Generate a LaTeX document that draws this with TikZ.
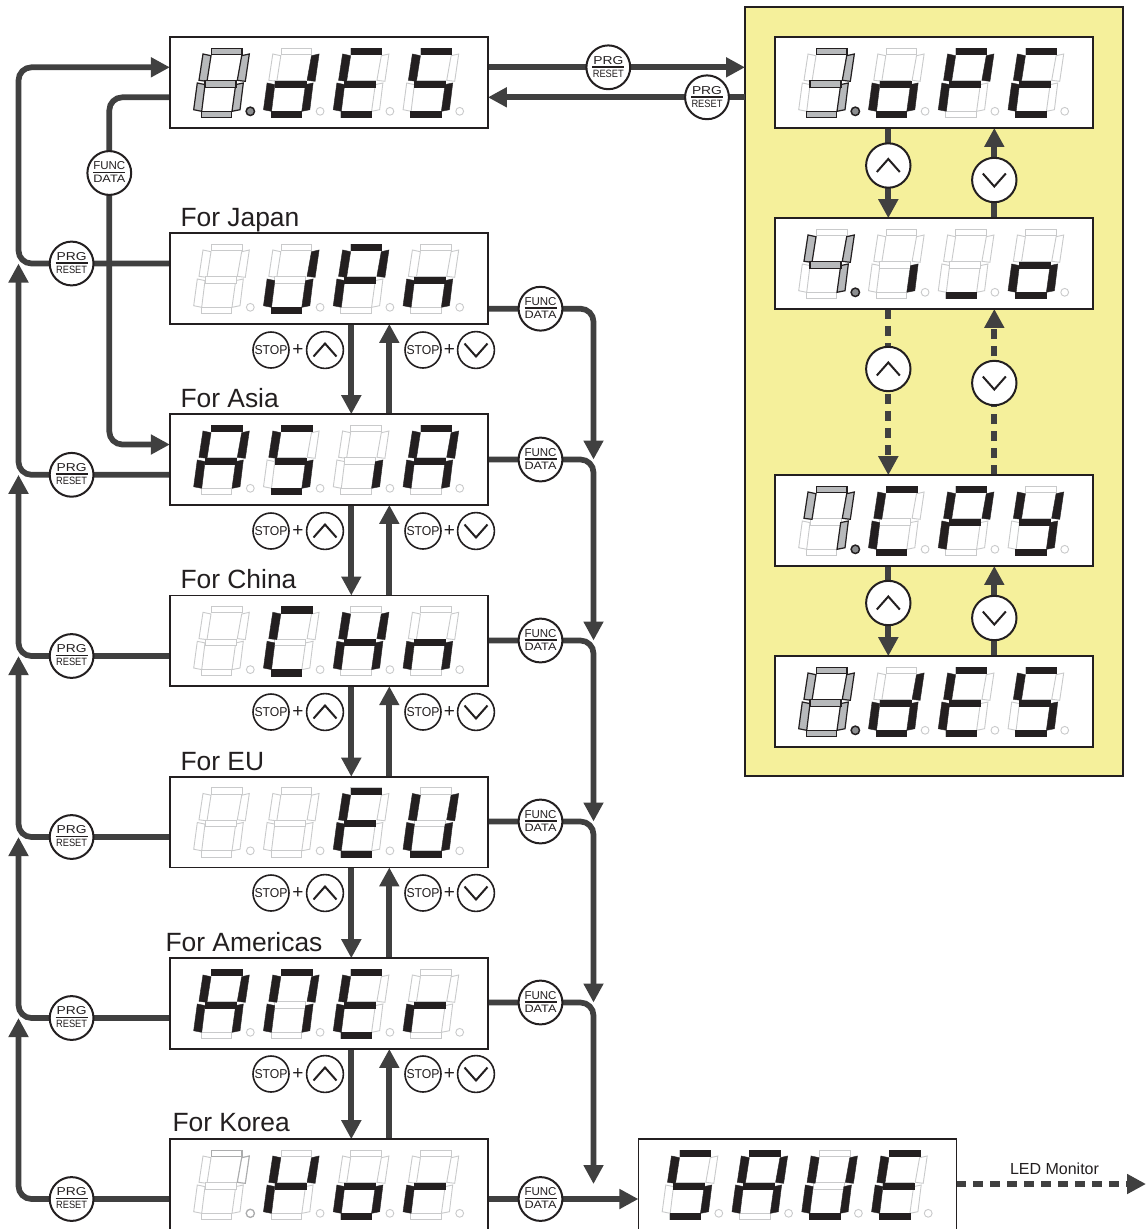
\documentclass[tikz,border=0pt]{standalone}
\usepackage{fontspec}
\setmainfont{Liberation Sans}
\usetikzlibrary{arrows.meta,calc}
\pgfdeclarelayer{panelbg}
\pgfdeclarelayer{conn}
\pgfsetlayers{panelbg,conn,main}
\definecolor{ink}{HTML}{231F20}
\definecolor{wirec}{HTML}{404040}
\definecolor{faintc}{HTML}{C9CACB}
\definecolor{midc}{HTML}{ABACAD}
\definecolor{grayseg}{HTML}{B7B9BB}
\definecolor{graydot}{HTML}{8C8E90}
\definecolor{panely}{HTML}{F5F09B}
\tikzset{
  wire/.style={line width=5.7pt,draw=wirec},
  wirearrow/.style={wire,-{Triangle[length=19pt,width=19pt]}},
  wirecurve/.style={rounded corners=13pt},
  wiredash/.style={dash pattern=on 10pt off 7pt},
  dispbox/.style={draw=ink,line width=1.6pt,fill=white,minimum width=318pt,minimum height=90.7pt,
    anchor=north west,inner sep=0pt,outer sep=0pt},
  panelbox/.style={draw=ink,line width=2pt,fill=panely,minimum width=378pt,minimum height=769pt,
    anchor=north west,inner sep=0pt,outer sep=0pt},
  btn/.style={circle,draw=ink,line width=2pt,fill=white,minimum size=43.8pt,inner sep=0pt,outer sep=0pt,text=ink},
  panelbtn/.style={btn,minimum size=44.4pt},
  smallbtn/.style={circle,draw=ink,line width=1.6pt,fill=white,minimum size=36pt,inner sep=0pt,outer sep=0pt,text=ink},
  chevbtn/.style={smallbtn,minimum size=36.8pt},
  chevup/.style={path picture={\draw[ink,line width=2pt] (-11.5,6.5)--(0,-6.5)--(11.5,6.5);}},
  chevdown/.style={path picture={\draw[ink,line width=2pt] (-11.5,-6.5)--(0,6.5)--(11.5,-6.5);}},
  plussign/.style={inner sep=0pt,outer sep=0pt,text=ink,font=\fontsize{19}{19}\selectfont},
  regionlabel/.style={anchor=base west,inner sep=0pt,outer sep=0pt,text=ink,font=\fontsize{26.4}{30}\selectfont},
  ledlabel/.style={anchor=base,inner sep=0pt,outer sep=0pt,text=ink,font=\fontsize{16}{18}\selectfont},
  segoff/.style={draw=faintc,line width=0.9pt,fill=white},
  segmid/.style={draw=midc,line width=1.1pt,fill=white},
  segon/.style={fill=ink,draw=ink,line width=0.3pt},
  seggray/.style={fill=grayseg,draw=ink,line width=1.2pt},
}
\def\dsgA{(41.3,11.2) rectangle (72,17.6)}
\def\dsgB{(71.7,18.7)--(79.3,17)--(75.3,44.3)--(67.3,43.3)--cycle}
\def\dsgC{(65.7,47.6)--(73.3,46)--(70,72.7)--(62,74.3)--cycle}
\def\dsgD{(31.2,74.2) rectangle (61.8,80.6)}
\def\dsgE{(27.3,46)--(35,47.6)--(31.7,74.3)--(23.7,72.7)--cycle}
\def\dsgF{(33,17)--(41,18.7)--(37,44.3)--(29,43.3)--cycle}
\def\dsgG{(35,43.7) rectangle (66,50.1)}
\def\dsgZ{(0,0)}
\newcommand\dsgdraw[2]{\expandafter\let\expandafter\dsgcur\csname dsg#2\endcsname\draw[#1] \dsgcur;}
% box x, box y, digit index, dark list, gray list
\newcommand\dgone[5]{%
  \pgfmathsetmacro\dgx{#1+#3*69.8}%
  \begin{scope}[shift={(\dgx,#2)}]
    \foreach \s in {A,B,C,D,E,F,G}{\dsgdraw{segoff}{\s}}
    \foreach \s in {#4}{\dsgdraw{segon}{\s}}
    \foreach \s in {#5}{\dsgdraw{seggray}{\s}}
    \draw[segoff] (80.3,74.3) circle (3.9);
  \end{scope}}
\newcommand\dfour[6]{\dgone{#1}{#2}{0}{#3}{Z}\dgone{#1}{#2}{1}{#4}{Z}\dgone{#1}{#2}{2}{#5}{Z}\dgone{#1}{#2}{3}{#6}{Z}}
\newcommand\dfourg[6]{\dgone{#1}{#2}{0}{Z}{#3}\dgone{#1}{#2}{1}{#4}{Z}\dgone{#1}{#2}{2}{#5}{Z}\dgone{#1}{#2}{3}{#6}{Z}%
  \draw[fill=graydot,draw=ink,line width=1.5pt] ($(#1,#2)+(80.3,74.3)$) circle (4.2);}
\newcommand\btnlabel[4]{\vbox{\offinterlineskip\halign{\hfil##\hfil\cr
  \resizebox{#3}{8pt}{#1}\cr\noalign{\kern1.6pt}\rule{32pt}{1.7pt}\cr\noalign{\kern2.2pt}\resizebox{#4}{7.4pt}{#2}\cr\noalign{\kern1.2pt}}}}
\newcommand\prglabel{\btnlabel{PRG}{RESET}{30pt}{31pt}}
\newcommand\funclabel{\btnlabel{FUNC}{DATA}{32pt}{32pt}}
\newcommand\stoplabel{\resizebox{33pt}{9pt}{STOP}}
\begin{document}
\begin{tikzpicture}[x=1pt,y=-1pt]
\useasboundingbox (0,0) rectangle (1146,1229);
\begin{pgfonlayer}{panelbg}
  \fill[white] (0,0) rectangle (1146,1229);
  \node[panelbox] (panel) at (745,7) {};
\end{pgfonlayer}
% displays
\node[dispbox] (top) at (169.9,37.2) {};
\node[dispbox] (jp) at (169.9,233.2) {};
\node[dispbox] (as) at (169.9,414.2) {};
\node[dispbox] (cn) at (169.9,595.5) {};
\node[dispbox] (eu) at (169.9,776.7) {};
\node[dispbox] (am) at (169.9,958.2) {};
\node[dispbox] (ko) at (169.9,1139.2) {};
\node[dispbox] (pa) at (774.9,37.2) {};
\node[dispbox] (pb) at (774.9,218.2) {};
\node[dispbox] (pc) at (774.9,475.2) {};
\node[dispbox] (pd) at (774.9,656.2) {};
\node[dispbox] (save) at (638.4,1139.2) {};
\dfourg{170}{37}{A,B,C,D,E,F,G}{B,C,D,E,G}{A,D,E,F,G}{A,C,D,F,G}
\dfour{170}{233}{Z}{B,C,D,E}{A,B,E,F,G}{C,E,G}
\dfour{170}{414}{A,B,C,E,F,G}{A,C,D,F,G}{C}{A,B,C,E,F,G}
\dfour{170}{595.3}{Z}{A,D,E,F}{B,C,E,F,G}{C,E,G}
\dfour{170}{776.5}{Z}{Z}{A,D,E,F,G}{B,C,D,E,F}
\dfour{170}{958}{A,B,C,E,F,G}{A,B,C,E,F}{A,D,E,F,G}{E,G}
\dfour{170}{1139}{Z}{B,E,F,G}{C,D,E,G}{E,G}
\begin{scope}[shift={(170,1139)}]
  \dsgdraw{segmid}{A}\dsgdraw{segmid}{B}
  \draw[draw=midc,line width=1.3pt,fill=white] (80.3,74.3) circle (4.1);
\end{scope}
\dfourg{775}{37}{A,B,C,D,G}{C,D,E,G}{A,B,E,F,G}{A,D,E,F,G}
\dfourg{775}{218}{B,C,F,G}{C}{D}{C,D,E,G}
\dfourg{775}{475}{A,B,C,F}{A,D,E,F}{A,B,E,F,G}{B,C,D,F,G}
\dfourg{775}{656}{A,B,C,D,E,F,G}{B,C,D,E,G}{A,D,E,F,G}{A,C,D,F,G}
\dfour{638.5}{1139}{A,C,D,F,G}{A,B,C,E,F,G}{B,C,D,E,F}{A,D,E,F,G}
% labels
\node[regionlabel] (ljp) at (180.5,226.7) {For Japan};
\node[regionlabel] (las) at (180.5,407) {For Asia};
\node[regionlabel] (lcn) at (180.5,588.5) {For China};
\node[regionlabel] (leu) at (180.5,770) {For EU};
\node[regionlabel] (lam) at (165.5,951) {For Americas};
\node[regionlabel] (lko) at (172.5,1131.5) {For Korea};
\node[ledlabel] (led) at (1054.5,1174) {LED Monitor};
% PRG / FUNC buttons
\node[btn] (prga) at (608.3,67.3) {\prglabel};
\node[btn] (prgb) at (707,97.3) {\prglabel};
\node[btn] (prgjp) at (71.6,263.5) {\prglabel};
\node[btn] (prgas) at (71.6,474.8) {\prglabel};
\node[btn] (prgcn) at (71.6,656) {\prglabel};
\node[btn] (prgeu) at (71.6,837) {\prglabel};
\node[btn] (prgam) at (71.6,1018) {\prglabel};
\node[btn] (prgko) at (71.6,1199) {\prglabel};
\node[btn] (ftop) at (109.3,173) {\funclabel};
\node[btn] (fjp) at (540.5,308.7) {\funclabel};
\node[btn] (fas) at (540.5,459.5) {\funclabel};
\node[btn] (fcn) at (540.5,640.5) {\funclabel};
\node[btn] (feu) at (540.5,821.5) {\funclabel};
\node[btn] (fam) at (540.5,1002.5) {\funclabel};
\node[btn] (fko) at (540.5,1199) {\funclabel};
% STOP + arrow groups
\foreach \n/\y in {jp/350,as/531,cn/712,eu/893,am/1074}{
  \node[smallbtn] (su\n) at (271,\y) {\stoplabel};
  \node[plussign] (pu\n) at (298,\y) {+};
  \node[chevbtn,chevup] (cu\n) at (325,\y) {};
  \node[smallbtn] (sd\n) at (423,\y) {\stoplabel};
  \node[plussign] (pd\n) at (449.5,\y) {+};
  \node[chevbtn,chevdown] (cd\n) at (476,\y) {};
}
% panel buttons
\node[panelbtn,chevup] (upa) at (888.3,165.5) {};
\node[panelbtn,chevdown] (dna) at (994.3,180) {};
\node[panelbtn,chevup] (upb) at (888.3,369) {};
\node[panelbtn,chevdown] (dnb) at (994.3,383) {};
\node[panelbtn,chevup] (upc) at (888.3,603) {};
\node[panelbtn,chevdown] (dnc) at (994.3,618) {};
% rails
\coordinate (leftrail) at (18.5,0);
\coordinate (downrail) at (351.3,0);
\coordinate (uprail) at (389.3,0);
\coordinate (funcrail) at (593.5,0);
\coordinate (asin) at (140,444.5);
\coordinate (savein) at (620,1184);
\coordinate (ledout) at (1146,1184);
\begin{pgfonlayer}{conn}
  \draw[wirearrow] (top.east |- prga) -- (panel.west |- prga);
  \draw[wirearrow] (panel.west |- prgb) -- (top.east |- prgb);
  \draw[wirearrow,wirecurve] (jp.west |- prgjp) -- (leftrail |- prgjp) -- (leftrail |- prga) -- (top.west |- prga);
  \draw[wirearrow,wirecurve] (top.west |- prgb) -- (ftop |- prgb) -- (ftop |- asin) -- (as.west |- asin);
  \draw[wirearrow,wirecurve] (as.west |- prgas) -- (leftrail |- prgas) -- (leftrail |- prgjp);
  \draw[wirearrow,wirecurve] (cn.west |- prgcn) -- (leftrail |- prgcn) -- (leftrail |- prgas);
  \draw[wirearrow,wirecurve] (eu.west |- prgeu) -- (leftrail |- prgeu) -- (leftrail |- prgcn);
  \draw[wirearrow,wirecurve] (am.west |- prgam) -- (leftrail |- prgam) -- (leftrail |- prgeu);
  \draw[wirearrow,wirecurve] (ko.west |- prgko) -- (leftrail |- prgko) -- (leftrail |- prgam);
  \draw[wirearrow,wirecurve] (jp.east |- fjp) -- (funcrail |- fjp) -- (funcrail |- fas);
  \draw[wirearrow,wirecurve] (as.east |- fas) -- (funcrail |- fas) -- (funcrail |- fcn);
  \draw[wirearrow,wirecurve] (cn.east |- fcn) -- (funcrail |- fcn) -- (funcrail |- feu);
  \draw[wirearrow,wirecurve] (eu.east |- feu) -- (funcrail |- feu) -- (funcrail |- fam);
  \draw[wirearrow,wirecurve] (am.east |- fam) -- (funcrail |- fam) -- (funcrail |- savein);
  \draw[wirearrow] (ko.east |- fko) -- (save.west |- fko);
  \foreach \a/\b in {jp/as,as/cn,cn/eu,eu/am,am/ko}{
    \draw[wirearrow] (\a.south -| downrail) -- (\b.north -| downrail);
    \draw[wirearrow] (\b.north -| uprail) -- (\a.south -| uprail);
  }
  \draw[wirearrow] (pa.south -| upa) -- (pb.north -| upa);
  \draw[wirearrow] (pb.north -| dna) -- (pa.south -| dna);
  \draw[wirearrow,wiredash] (pb.south -| upb) -- (pc.north -| upb);
  \draw[wirearrow,wiredash] (pc.north -| dnb) -- (pb.south -| dnb);
  \draw[wirearrow] (pc.south -| upc) -- (pd.north -| upc);
  \draw[wirearrow] (pd.north -| dnc) -- (pc.south -| dnc);
  \draw[wirearrow,wiredash] (save.east |- ledout) -- (ledout);
\end{pgfonlayer}
\end{tikzpicture}
\end{document}
